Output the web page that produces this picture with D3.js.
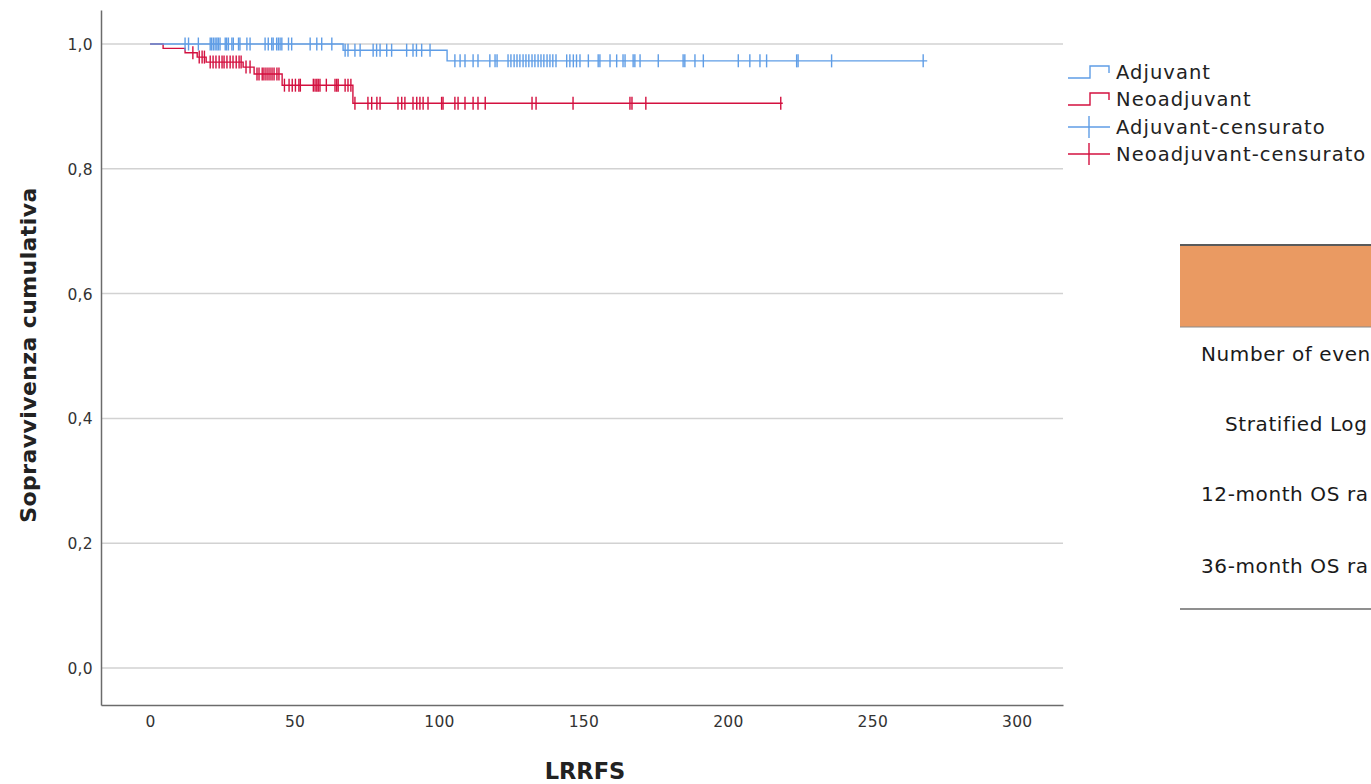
<!DOCTYPE html>
<html>
<head>
<meta charset="utf-8">
<script src="https://cdn.jsdelivr.net/npm/d3@7/dist/d3.min.js"></script>
<style>
  html, body { margin: 0; padding: 0; background: #fff; overflow: hidden; }
  svg { display: block; }
</style>
</head>
<body>
<svg id="chart" width="1371" height="784"></svg>
<script>
// ---------------- DATA ----------------
const xTicks = [0, 50, 100, 150, 200, 250, 300];
const yTicks = [0, 0.2, 0.4, 0.6, 0.8, 1.0];
const yTickLabels = ["0,0", "0,2", "0,4", "0,6", "0,8", "1,0"];

// Adjuvant: event times and survival after each event
const adjEventTimes = [66.8, 102.8];
const adjSurv = [0.990, 0.973];
const adjEnd = 269;
const adjCensored = [
  12.1, 13.3, 16.7, 20.8, 21.3, 21.9, 22.5, 23.1, 23.6, 24.2, 26.0, 26.5, 27.1, 28.3, 28.8,
  30.6, 31.1, 33.5, 34.6, 39.8, 40.9, 42.1, 42.6, 43.8, 44.4, 45.0, 45.6, 47.9, 49.0, 55.4,
  57.7, 59.4, 62.9,
  67.5, 68.5, 70.9, 72.7, 77.2, 78.4, 79.6, 81.9, 83.6, 88.8, 91.0, 92.2, 94.0, 96.9,
  105.5, 107.3, 109.0, 111.8, 113.5, 117.6, 119.4, 120.1, 123.9, 124.9, 126.0, 127.0, 128.0,
  129.1, 130.1, 131.1, 132.2, 133.2, 134.3, 135.3, 136.3, 137.4, 138.4, 139.4, 140.5, 144.2,
  145.3, 146.5, 147.6, 148.8, 151.7, 155.1, 155.7, 159.2, 161.5, 163.7, 164.4, 167.2, 167.8,
  169.6, 175.9, 184.5, 185.1, 188.6, 191.5, 203.6, 207.6, 211.1, 213.4, 223.8, 224.3, 235.9,
  267.6
];

// Neoadjuvant
const neoEventTimes = [4.5, 12.1, 16.3, 19.4, 32.2, 36.0, 45.7, 70.2];
const neoSurv = [0.993, 0.986, 0.979, 0.971, 0.963, 0.952, 0.934, 0.905];
const neoEnd = 219;
const neoCensored = [
  14.8, 17.0, 18.0, 18.8,
  20.8, 21.8, 22.8, 23.9, 24.9, 25.6, 26.6, 27.7, 28.7, 29.8, 30.8, 31.5,
  33.2, 34.6,
  37.0, 37.7, 38.8, 39.4, 40.1, 40.8, 41.5, 42.2, 42.9, 43.9, 44.6,
  46.5, 48.1, 49.2, 50.3, 51.5, 52.0, 56.5, 57.1, 57.7, 58.2, 58.8, 61.0, 64.0, 64.6, 65.1,
  67.5, 68.5, 69.5,
  70.9, 75.4, 76.7, 78.5, 79.6, 85.8, 87.1, 88.2, 91.0, 92.3, 93.4, 94.5, 96.2, 100.9, 101.4,
  105.5, 106.6, 109.0, 111.8, 113.5, 116.0, 132.2, 133.6, 146.4, 166.1, 166.8, 171.6, 218.3
];

const legendLabels = ["Adjuvant", "Neoadjuvant", "Adjuvant-censurato", "Neoadjuvant-censurato"];
// table row labels, as far as they are visible in the picture (cut at the right edge)
const tableRows = ["Number of even", "Stratified Log", "12-month OS ra", "36-month OS ra"];

const xTitle = "LRRFS";
const yTitle = "Sopravvivenza cumulativa";

// ---------------- STYLE ----------------
const blue = "#5f9de6";
const red = "#d3103f";
const fontTick = "'DejaVu Sans', Verdana, sans-serif";

const svg = d3.select("#chart");

const x = d3.scaleLinear().domain([-17, 316]).range([101, 1063]);
const y = d3.scaleLinear().domain([-0.0593, 1.0545]).range([705, 10]);

// gridlines
svg.append("g").selectAll("line").data(yTicks).join("line")
  .attr("x1", x.range()[0]).attr("x2", x.range()[1])
  .attr("y1", d => y(d)).attr("y2", d => y(d))
  .attr("stroke", "#d2d2d2").attr("stroke-width", 1.5);

// axes via d3
const yAxis = d3.axisLeft(y).tickValues(yTicks).tickSize(0).tickPadding(8)
  .tickFormat((d, i) => yTickLabels[i]);
const gy = svg.append("g").attr("transform", `translate(${x.range()[0]},0)`).call(yAxis);
gy.select(".domain").attr("stroke", "#6b6b6b").attr("stroke-width", 1.5);
gy.selectAll("text").attr("font-family", fontTick).attr("font-size", 15.5)
  .attr("fill", "#333").attr("letter-spacing", "0.3px").attr("dy", "0.35em");

const xAxis = d3.axisBottom(x).tickValues(xTicks).tickSize(0).tickPadding(11);
const gx = svg.append("g").attr("transform", `translate(0,${y.range()[0]})`).call(xAxis);
gx.select(".domain").attr("stroke", "#6b6b6b").attr("stroke-width", 1.5);
gx.selectAll("text").attr("font-family", fontTick).attr("font-size", 15.5)
  .attr("fill", "#333").attr("letter-spacing", "0.3px");

// axis titles
svg.append("text").text(xTitle)
  .attr("x", 585).attr("y", 779).attr("text-anchor", "middle")
  .attr("font-family", fontTick).attr("font-weight", "bold").attr("font-size", 22.5)
  .attr("fill", "#222");
svg.append("text").text(yTitle)
  .attr("transform", "translate(36,355) rotate(-90)").attr("text-anchor", "middle")
  .attr("font-family", fontTick).attr("font-weight", "bold").attr("font-size", 22)
  .attr("letter-spacing", "0.4px")
  .attr("fill", "#222");

// step function builder
function stepPoints(times, surv, end) {
  const pts = [[0, 1]];
  let s = 1;
  times.forEach((t, i) => { pts.push([t, s]); s = surv[i]; pts.push([t, s]); });
  pts.push([end, s]);
  return pts;
}
function survAt(t, times, surv) {
  let s = 1;
  times.forEach((tt, i) => { if (tt <= t) s = surv[i]; });
  return s;
}
const line = d3.line().x(d => x(d[0])).y(d => y(d[1]));

function drawGroup(times, surv, end, cens, color) {
  const g = svg.append("g");
  g.append("path").datum(stepPoints(times, surv, end))
    .attr("d", line).attr("fill", "none").attr("stroke", color).attr("stroke-width", 1.4);
  g.selectAll("line.c").data(cens).join("line").attr("class", "c")
    .attr("x1", d => x(d)).attr("x2", d => x(d))
    .attr("y1", d => y(survAt(d, times, surv)) - 6.5)
    .attr("y2", d => y(survAt(d, times, surv)) + 6.5)
    .attr("stroke", color).attr("stroke-width", 1.4);
}
drawGroup(neoEventTimes, neoSurv, neoEnd, neoCensored, red);
drawGroup(adjEventTimes, adjSurv, adjEnd, adjCensored, blue);

// legend
const legColors = [blue, red, blue, red];
const legY = [72, 99, 127, 154];
const lg = svg.append("g");
legendLabels.forEach((lab, i) => {
  const cy = legY[i];
  const c = legColors[i];
  if (i < 2) {
    lg.append("path")
      .attr("d", `M1068,${cy + 6} H1090 V${cy - 6} H1109 V${cy + 1}`)
      .attr("fill", "none").attr("stroke", c).attr("stroke-width", 1.4);
  } else {
    lg.append("line").attr("x1", 1068).attr("x2", 1110).attr("y1", cy).attr("y2", cy)
      .attr("stroke", c).attr("stroke-width", 1.4);
    lg.append("line").attr("x1", 1089).attr("x2", 1089).attr("y1", cy - 11).attr("y2", cy + 11)
      .attr("stroke", c).attr("stroke-width", 1.4);
  }
  lg.append("text").text(lab).attr("x", 1116).attr("y", cy).attr("dy", "0.36em")
    .attr("font-family", fontTick).attr("font-size", 19.5).attr("letter-spacing", "1.05px")
    .attr("fill", "#222");
});

// table on the right
const tg = svg.append("g");
tg.append("rect").attr("x", 1180).attr("y", 246).attr("width", 200).attr("height", 81)
  .attr("fill", "#ea9a62");
tg.append("line").attr("x1", 1180).attr("x2", 1371).attr("y1", 245).attr("y2", 245)
  .attr("stroke", "#5a5a5a").attr("stroke-width", 2);
tg.append("line").attr("x1", 1180).attr("x2", 1371).attr("y1", 327).attr("y2", 327)
  .attr("stroke", "#8a8a8a").attr("stroke-width", 1);
tg.append("line").attr("x1", 1180).attr("x2", 1371).attr("y1", 609).attr("y2", 609)
  .attr("stroke", "#6a6a6a").attr("stroke-width", 1.5);
const rowX = [1201, 1225, 1201, 1201];
const rowY = [354, 424, 494, 566];
tableRows.forEach((r, i) => {
  tg.append("text").text(r).attr("x", rowX[i]).attr("y", rowY[i]).attr("dy", "0.36em")
    .attr("font-family", fontTick).attr("font-size", 20).attr("letter-spacing", "0.6px")
    .attr("fill", "#1a1a1a");
});
</script>
</body>
</html>
